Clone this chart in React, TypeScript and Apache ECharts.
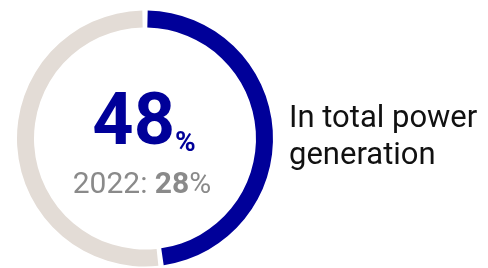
import React, { useEffect, useRef } from "react";
import * as echarts from "echarts";

const segments = ["2023", "Rest"];
const shares = [48, 52];
const colors = ["#000099", "#e3dcd6"];
const mainValue = "48";
const prevYear = "2022";
const prevValue = "28";
const caption = ["In total power", "generation"];

export default function App() {
  const ref = useRef<HTMLDivElement>(null);
  useEffect(() => {
    if (!ref.current) return;
    const chart = echarts.init(ref.current, null, { renderer: "svg" });
    chart.setOption({
      animation: false,
      series: [
        {
          type: "pie",
          center: [145, 138.5],
          radius: [111, 128],
          startAngle: 90,
          clockwise: true,
          padAngle: 2.4,
          silent: true,
          label: { show: false },
          labelLine: { show: false },
          emphasis: { disabled: true },
          data: segments.map((n, i) => ({
            name: n,
            value: shares[i],
            itemStyle: { color: colors[i] },
          })),
        },
      ],
      graphic: [
        {
          type: "text",
          x: 144,
          y: 155,
          style: {
            text: `{big|${mainValue}}{pct|%}`,
            align: "center",
            verticalAlign: "bottom",
            rich: {
              big: {
                fontFamily: "Roboto",
                fontWeight: "bold",
                fontSize: 72,
                fill: "#000099",
                lineHeight: 72,
              },
              pct: {
                fontFamily: "Roboto",
                fontWeight: "bold",
                fontSize: 28,
                fill: "#000099",
                lineHeight: 72,
                verticalAlign: "bottom",
              },
            },
          },
        },
        {
          type: "text",
          x: 142,
          y: 197,
          style: {
            text: `{a|${prevYear}: }{b|${prevValue}}{a|%}`,
            align: "center",
            verticalAlign: "bottom",
            rich: {
              a: { fontFamily: "Roboto", fontSize: 30, fill: "#8a8a8a", lineHeight: 30 },
              b: { fontFamily: "Roboto", fontWeight: "bold", fontSize: 30, fill: "#8a8a8a", lineHeight: 30 },
            },
          },
        },
        {
          type: "text",
          x: 289,
          y: 98,
          style: {
            text: caption.join("\n"),
            fontFamily: "Roboto",
            fontSize: 31,
            lineHeight: 37,
            fill: "#111111",
            align: "left",
            verticalAlign: "top",
          },
        },
      ],
    });
    return () => chart.dispose();
  }, []);
  return (
    <div
      ref={ref}
      style={{ position: "fixed", left: 0, top: 0, width: 488, height: 268 }}
    />
  );
}
